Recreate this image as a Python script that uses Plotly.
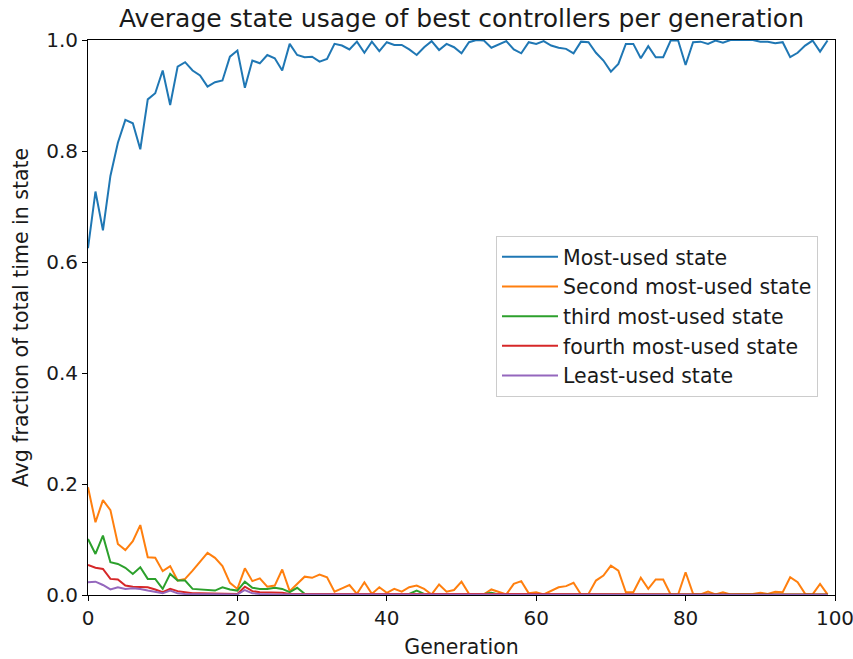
import plotly.graph_objects as go

generations = list(range(100))

most_used = [
    0.625, 0.727, 0.657, 0.755, 0.815, 0.856, 0.850, 0.803, 0.893, 0.904,
    0.945, 0.883, 0.952, 0.960, 0.945, 0.936, 0.916, 0.924, 0.927, 0.970,
    0.981, 0.914, 0.963, 0.958, 0.973, 0.967, 0.945, 0.993, 0.973, 0.969,
    0.970, 0.961, 0.966, 0.993, 0.990, 0.983, 0.997, 0.977, 0.997, 0.980,
    0.996, 0.991, 0.991, 0.983, 0.973, 0.987, 0.998, 0.982, 0.993, 0.987,
    0.976, 0.996, 1.000, 0.999, 0.986, 0.992, 0.998, 0.983, 0.976, 0.996,
    0.993, 0.998, 0.990, 0.986, 0.984, 0.976, 0.997, 0.996, 0.977, 0.963,
    0.943, 0.957, 0.993, 0.993, 0.967, 0.989, 0.969, 0.969, 0.999, 0.999,
    0.955, 0.996, 0.997, 0.993, 0.999, 0.995, 1.000, 1.000, 1.000, 1.000,
    0.997, 0.997, 0.994, 0.996, 0.969, 0.977, 0.990, 0.999, 0.979, 0.999,
]

second_used = [
    0.194, 0.131, 0.171, 0.153, 0.092, 0.081, 0.097, 0.126, 0.068, 0.067,
    0.043, 0.052, 0.026, 0.029, 0.044, 0.059, 0.076, 0.067, 0.052, 0.022,
    0.011, 0.048, 0.025, 0.030, 0.015, 0.017, 0.046, 0.007, 0.020, 0.033,
    0.031, 0.037, 0.032, 0.006, 0.012, 0.018, 0.002, 0.023, 0.002, 0.014,
    0.004, 0.011, 0.006, 0.014, 0.017, 0.011, 0.001, 0.019, 0.006, 0.009,
    0.024, 0.002, 0.001, 0.001, 0.010, 0.006, 0.001, 0.020, 0.025, 0.003,
    0.005, 0.001, 0.008, 0.014, 0.016, 0.022, 0.001, 0.002, 0.026, 0.035,
    0.053, 0.044, 0.005, 0.005, 0.031, 0.011, 0.028, 0.028, 0.001, 0.001,
    0.041, 0.002, 0.001, 0.006, 0.001, 0.005, 0.001, 0.001, 0.001, 0.002,
    0.004, 0.002, 0.006, 0.005, 0.032, 0.023, 0.002, 0.001, 0.020, 0.001,
]

third_used = [
    0.101, 0.074, 0.107, 0.059, 0.056, 0.049, 0.038, 0.050, 0.029, 0.029,
    0.011, 0.038, 0.026, 0.026, 0.011, 0.010, 0.010, 0.008, 0.014, 0.010,
    0.008, 0.024, 0.013, 0.011, 0.011, 0.013, 0.011, 0.005, 0.013, 0.002,
    0.001, 0.001, 0.001, 0.001, 0.001, 0.001, 0.001, 0.001, 0.001, 0.001,
    0.001, 0.001, 0.001, 0.002, 0.008, 0.002, 0.001, 0.001, 0.001, 0.001,
    0.001, 0.001, 0.001, 0.002, 0.004, 0.001, 0.001, 0.001, 0.001, 0.001,
    0.001, 0.001, 0.001, 0.001, 0.001, 0.001, 0.001, 0.001, 0.001, 0.001,
    0.002, 0.001, 0.001, 0.001, 0.001, 0.001, 0.001, 0.001, 0.001, 0.001,
    0.001, 0.001, 0.001, 0.001, 0.001, 0.001, 0.001, 0.001, 0.001, 0.001,
    0.001, 0.001, 0.001, 0.001, 0.001, 0.001, 0.001, 0.001, 0.001, 0.001,
]

fourth_used = [
    0.054, 0.049, 0.047, 0.029, 0.028, 0.017, 0.015, 0.015, 0.014, 0.010,
    0.005, 0.011, 0.007, 0.005, 0.003, 0.003, 0.003, 0.002, 0.003, 0.002,
    0.002, 0.015, 0.007, 0.005, 0.005, 0.004, 0.004, 0.002, 0.002, 0.001,
    0.001, 0.001, 0.001, 0.001, 0.001, 0.001, 0.001, 0.001, 0.001, 0.001,
    0.001, 0.001, 0.001, 0.001, 0.001, 0.001, 0.001, 0.001, 0.001, 0.001,
    0.001, 0.001, 0.001, 0.001, 0.001, 0.001, 0.001, 0.001, 0.001, 0.001,
    0.001, 0.001, 0.001, 0.001, 0.001, 0.001, 0.001, 0.001, 0.001, 0.001,
    0.001, 0.001, 0.001, 0.001, 0.001, 0.001, 0.001, 0.001, 0.001, 0.001,
    0.001, 0.001, 0.001, 0.001, 0.001, 0.001, 0.001, 0.001, 0.001, 0.001,
    0.001, 0.001, 0.001, 0.001, 0.001, 0.001, 0.001, 0.001, 0.001, 0.001,
]

least_used = [
    0.023, 0.024, 0.018, 0.010, 0.014, 0.011, 0.012, 0.011, 0.008, 0.005,
    0.003, 0.008, 0.003, 0.002, 0.002, 0.001, 0.001, 0.001, 0.001, 0.001,
    0.001, 0.009, 0.003, 0.002, 0.001, 0.001, 0.001, 0.001, 0.001, 0.001,
    0.000, 0.000, 0.000, 0.000, 0.000, 0.000, 0.000, 0.000, 0.000, 0.000,
    0.000, 0.000, 0.000, 0.000, 0.000, 0.000, 0.000, 0.000, 0.000, 0.000,
    0.000, 0.000, 0.000, 0.000, 0.000, 0.000, 0.000, 0.000, 0.000, 0.000,
    0.000, 0.000, 0.000, 0.000, 0.000, 0.000, 0.000, 0.000, 0.000, 0.000,
    0.000, 0.000, 0.000, 0.000, 0.000, 0.000, 0.000, 0.000, 0.000, 0.000,
    0.000, 0.000, 0.000, 0.000, 0.000, 0.000, 0.000, 0.000, 0.000, 0.000,
    0.000, 0.000, 0.000, 0.000, 0.000, 0.000, 0.000, 0.000, 0.000, 0.000,
]

series_names = [
    "Most-used state",
    "Second most-used state",
    "third most-used state",
    "fourth most-used state",
    "Least-used state",
]
series_values = [most_used, second_used, third_used, fourth_used, least_used]
colors = ["#1f77b4", "#ff7f0e", "#2ca02c", "#d62728", "#9467bd"]

x_ticks = [0, 20, 40, 60, 80, 100]
y_ticks = [0.0, 0.2, 0.4, 0.6, 0.8, 1.0]

FONT = "DejaVu Sans"
TXT = "#1a1a1a"

fig = go.Figure()
for name, vals, col in zip(series_names, series_values, colors):
    fig.add_trace(go.Scatter(
        x=generations, y=vals, mode="lines", name=name,
        line=dict(color=col, width=2),
    ))

axis_common = dict(
    showgrid=False, zeroline=False, showline=True, linecolor="black",
    linewidth=1, mirror=True, ticks="outside", ticklen=5, tickwidth=1,
    tickcolor="black", tickfont=dict(family=FONT, size=20, color=TXT),
    automargin=False, ticklabeloverflow="allow",
)

fig.update_layout(
    width=853, height=659,
    margin=dict(l=88, r=18, t=40, b=64),
    paper_bgcolor="white", plot_bgcolor="white",
    font=dict(family=FONT, color=TXT),
    title=dict(
        text="Average state usage of best controllers per generation",
        font=dict(family=FONT, size=25, color=TXT),
        x=0.5 * (88 + 835) / 853, xanchor="center",
        y=1 - 18 / 659, yanchor="middle",
    ),
    xaxis=dict(
        range=[0, 100], tickvals=x_ticks, ticktext=[str(t) for t in x_ticks],
        title=dict(text="Generation", font=dict(family=FONT, size=20.5, color=TXT), standoff=11),
        **axis_common,
    ),
    yaxis=dict(
        range=[0, 1], tickvals=y_ticks, ticktext=[f"{t:.1f}" for t in y_ticks],
        title=dict(text="Avg fraction of total time in state", font=dict(family=FONT, size=20.5, color=TXT), standoff=12),
        **axis_common,
    ),
    legend=dict(
        x=(496 - 88) / 747, y=(595 - 236) / 555, xanchor="left", yanchor="top",
        bgcolor="rgba(255,255,255,0.8)", bordercolor="#cccccc", borderwidth=1,
        font=dict(family=FONT, size=20.5, color=TXT),
        tracegroupgap=0, itemwidth=56,
    ),
    showlegend=True,
)

fig.write_html("out.html")
